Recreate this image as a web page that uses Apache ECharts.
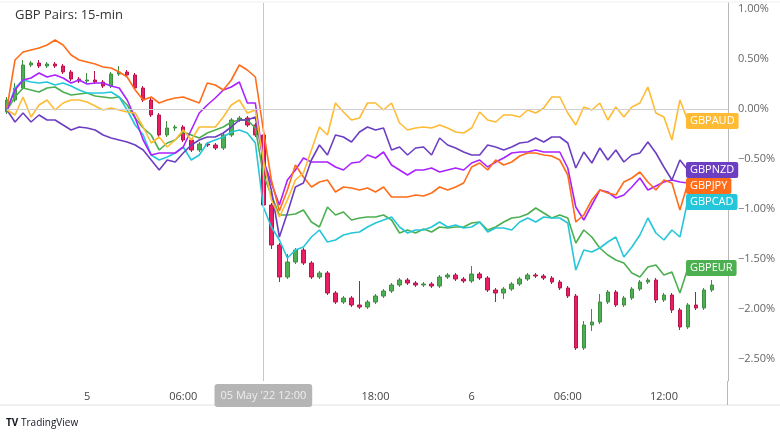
<!DOCTYPE html>
<html><head><meta charset="utf-8">
<script src="https://cdn.jsdelivr.net/npm/echarts@6/dist/echarts.min.js"></script>
<style>html,body{margin:0;padding:0;background:#fff}#c{width:780px;height:439px}</style>
</head><body><div id="c"></div>
<script>
// 30-minute bars from 04 May 19:00 to 06 May 15:00 (+2 empty slots)
const xTickLabels = {10:'5', 22:'06:00', 34:'12:00', 46:'18:00', 58:'6', 70:'06:00', 82:'12:00'};
const yTickValues = [1.0, 0.5, 0, -0.5, -1.0, -1.5, -2.0, -2.5];

const gbpaud = [-0.01,-0.06,0.12,-0.08,0.04,0.09,-0.01,0.06,0.09,0.09,0.07,0.03,-0.01,0.01,-0.01,-0.03,-0.04,-0.18,-0.34,-0.28,-0.38,-0.31,-0.21,-0.31,-0.18,-0.18,-0.18,-0.08,0.04,0.09,-0.04,-0.01,-0.51,-0.91,-1.08,-0.91,-0.71,-0.64,-0.41,-0.18,-0.26,0.06,-0.03,-0.11,-0.09,0.06,0.06,-0.01,0.06,-0.14,-0.21,-0.19,-0.18,-0.19,-0.16,-0.19,-0.23,-0.24,-0.19,-0.03,-0.11,-0.13,-0.06,-0.06,-0.08,-0.01,-0.04,0.01,0.12,0.12,-0.04,-0.16,0.02,-0.01,0.06,-0.11,0.02,-0.08,0.02,0.06,0.22,-0.04,-0.08,-0.31,0.09,-0.12];
const gbpnzd = [-0.01,-0.13,-0.04,-0.13,-0.06,-0.11,-0.11,-0.16,-0.21,-0.18,-0.19,-0.21,-0.26,-0.29,-0.31,-0.33,-0.36,-0.41,-0.51,-0.61,-0.51,-0.53,-0.44,-0.36,-0.31,-0.28,-0.28,-0.24,-0.18,-0.11,-0.11,-0.08,-0.51,-0.81,-1.28,-1.04,-0.78,-0.74,-0.51,-0.36,-0.46,-0.26,-0.28,-0.33,-0.23,-0.18,-0.21,-0.19,-0.41,-0.38,-0.46,-0.39,-0.38,-0.46,-0.29,-0.36,-0.39,-0.43,-0.46,-0.46,-0.36,-0.38,-0.41,-0.38,-0.34,-0.33,-0.29,-0.33,-0.28,-0.28,-0.34,-0.59,-0.43,-0.54,-0.39,-0.51,-0.41,-0.53,-0.46,-0.44,-0.33,-0.44,-0.58,-0.71,-0.51,-0.61];
const gbpjpy = [0.01,0.49,0.57,0.59,0.61,0.64,0.69,0.64,0.54,0.49,0.47,0.45,0.42,0.41,0.37,0.32,0.19,0.09,0.12,0.06,0.09,0.11,0.12,0.09,0.06,0.26,0.24,0.19,0.29,0.44,0.39,0.32,-0.21,-0.71,-1.02,-0.81,-0.56,-0.68,-0.78,-0.73,-0.71,-0.83,-0.78,-0.79,-0.81,-0.79,-0.83,-0.78,-0.88,-0.88,-0.88,-0.86,-0.87,-0.84,-0.78,-0.81,-0.78,-0.74,-0.58,-0.54,-0.61,-0.51,-0.56,-0.53,-0.47,-0.44,-0.44,-0.46,-0.47,-0.51,-0.66,-1.13,-1.06,-0.91,-0.81,-0.84,-0.86,-0.73,-0.69,-0.63,-0.73,-0.81,-0.71,-0.74,-1.01,-0.74];
const gbpchf = [-0.01,0.19,0.29,0.31,0.36,0.32,0.34,0.31,0.26,0.29,0.25,0.26,0.26,0.23,0.21,0.09,-0.09,-0.31,-0.46,-0.44,-0.44,-0.44,-0.38,-0.21,-0.04,0.04,0.11,0.19,0.22,0.27,0.06,0.06,-0.51,-0.74,-0.96,-0.71,-0.61,-0.49,-0.53,-0.53,-0.53,-0.58,-0.61,-0.54,-0.53,-0.46,-0.49,-0.43,-0.56,-0.61,-0.66,-0.61,-0.61,-0.59,-0.63,-0.61,-0.59,-0.61,-0.54,-0.51,-0.58,-0.53,-0.49,-0.44,-0.43,-0.43,-0.41,-0.43,-0.43,-0.43,-0.59,-0.98,-1.11,-0.96,-0.81,-0.83,-0.89,-0.86,-0.78,-0.69,-0.81,-0.77,-0.73,-0.71,-0.73,-0.74];
const gbpcad = [-0.01,0.21,0.29,0.27,0.26,0.27,0.24,0.26,0.23,0.19,0.16,0.16,0.16,0.17,0.12,-0.01,-0.16,-0.26,-0.46,-0.51,-0.48,-0.44,-0.38,-0.51,-0.46,-0.34,-0.31,-0.28,-0.23,-0.21,-0.24,-0.34,-0.98,-1.18,-1.31,-1.49,-1.41,-1.38,-1.28,-1.21,-1.33,-1.31,-1.26,-1.24,-1.23,-1.18,-1.14,-1.11,-1.08,-1.18,-1.24,-1.21,-1.21,-1.18,-1.13,-1.18,-1.16,-1.19,-1.18,-1.13,-1.23,-1.19,-1.19,-1.21,-1.13,-1.09,-1.13,-1.08,-1.09,-1.09,-1.14,-1.61,-1.41,-1.43,-1.39,-1.33,-1.28,-1.48,-1.38,-1.26,-1.09,-1.24,-1.31,-1.21,-1.28,-0.91];
const gbpeur = [-0.01,0.12,0.21,0.19,0.17,0.21,0.22,0.17,0.14,0.15,0.16,0.13,0.12,0.11,0.12,0.04,-0.09,-0.19,-0.26,-0.41,-0.34,-0.31,-0.23,-0.26,-0.29,-0.24,-0.21,-0.18,-0.13,-0.11,-0.11,-0.19,-0.66,-0.86,-1.06,-1.06,-1.05,-1.01,-1.13,-1.18,-0.98,-1.06,-1.03,-1.11,-1.09,-1.08,-1.08,-1.06,-1.11,-1.24,-1.21,-1.24,-1.20,-1.23,-1.18,-1.19,-1.18,-1.18,-1.14,-1.13,-1.21,-1.18,-1.13,-1.09,-1.08,-1.05,-0.99,-1.04,-1.09,-1.06,-1.09,-1.34,-1.21,-1.28,-1.39,-1.46,-1.51,-1.54,-1.64,-1.68,-1.58,-1.56,-1.66,-1.63,-1.84,-1.59];

// main symbol candles
const candleOpen  = [-0.03,0.09,0.21,0.44,0.46,0.43,0.45,0.43,0.37,0.30,0.28,0.29,0.27,0.23,0.35,0.37,0.34,0.21,0.09,-0.06,-0.26,-0.19,-0.18,-0.31,-0.41,-0.35,-0.36,-0.39,-0.26,-0.11,-0.09,-0.16,-0.26,-0.96,-1.36,-1.68,-1.53,-1.41,-1.54,-1.68,-1.64,-1.84,-1.93,-1.89,-1.96,-1.98,-1.93,-1.87,-1.82,-1.76,-1.71,-1.74,-1.76,-1.75,-1.77,-1.68,-1.66,-1.70,-1.72,-1.65,-1.69,-1.81,-1.84,-1.80,-1.75,-1.70,-1.66,-1.67,-1.69,-1.73,-1.79,-1.87,-2.39,-2.16,-2.13,-1.93,-1.83,-1.96,-1.89,-1.80,-1.73,-1.71,-1.91,-1.86,-2.01,-2.18,-1.96,-1.99,-1.81];
const candleClose = [0.09,0.21,0.44,0.46,0.43,0.45,0.43,0.37,0.30,0.28,0.29,0.27,0.23,0.35,0.37,0.34,0.21,0.09,-0.06,-0.26,-0.19,-0.18,-0.31,-0.41,-0.35,-0.36,-0.39,-0.26,-0.11,-0.09,-0.16,-0.26,-0.96,-1.36,-1.68,-1.53,-1.41,-1.54,-1.68,-1.64,-1.84,-1.93,-1.89,-1.96,-1.98,-1.93,-1.87,-1.82,-1.76,-1.71,-1.74,-1.76,-1.75,-1.77,-1.68,-1.66,-1.70,-1.72,-1.65,-1.69,-1.81,-1.84,-1.80,-1.75,-1.70,-1.66,-1.67,-1.69,-1.73,-1.79,-1.87,-2.39,-2.16,-2.13,-1.93,-1.83,-1.96,-1.89,-1.80,-1.73,-1.71,-1.91,-1.86,-2.01,-2.18,-1.96,-1.99,-1.81,-1.76];
const candleLow   = [-0.05,0.07,0.19,0.42,0.41,0.41,0.41,0.35,0.28,0.26,0.26,0.25,0.21,0.21,0.33,0.32,0.19,0.07,-0.08,-0.28,-0.28,-0.22,-0.33,-0.43,-0.43,-0.38,-0.41,-0.41,-0.28,-0.13,-0.18,-0.28,-0.98,-1.40,-1.73,-1.70,-1.55,-1.56,-1.70,-1.70,-1.86,-1.95,-1.95,-1.98,-2.00,-2.00,-1.95,-1.89,-1.84,-1.78,-1.76,-1.78,-1.78,-1.79,-1.79,-1.70,-1.72,-1.74,-1.74,-1.71,-1.83,-1.93,-1.90,-1.82,-1.77,-1.72,-1.69,-1.71,-1.75,-1.81,-1.89,-2.41,-2.41,-2.22,-2.15,-1.95,-1.98,-1.98,-1.91,-1.82,-1.75,-1.94,-1.93,-2.04,-2.21,-2.20,-2.01,-2.01,-1.83];
const candleHigh  = [0.12,0.26,0.49,0.48,0.49,0.47,0.47,0.45,0.39,0.32,0.36,0.38,0.29,0.37,0.43,0.39,0.36,0.23,0.11,-0.04,-0.12,-0.16,-0.16,-0.29,-0.33,-0.33,-0.34,-0.24,-0.09,-0.07,-0.07,-0.14,-0.10,-0.94,-1.34,-1.45,-1.39,-1.39,-1.52,-1.62,-1.62,-1.82,-1.87,-1.87,-1.72,-1.91,-1.85,-1.80,-1.74,-1.69,-1.69,-1.72,-1.73,-1.73,-1.66,-1.64,-1.64,-1.68,-1.57,-1.63,-1.67,-1.79,-1.78,-1.73,-1.68,-1.64,-1.64,-1.65,-1.67,-1.71,-1.77,-1.85,-2.12,-2.00,-1.85,-1.81,-1.81,-1.87,-1.78,-1.71,-1.69,-1.69,-1.84,-1.84,-1.99,-1.94,-1.83,-1.79,-1.71];

const N = 91;
const start = Date.UTC(2022,4,4,19,0);
const categories = [];
for (let i=0;i<N;i++){const d=new Date(start+i*1800000);categories.push(d.toISOString().slice(5,16));}
const candles = candleOpen.map((o,i)=>[o,candleClose[i],candleLow[i],candleHigh[i]]);

const chart = echarts.init(document.getElementById('c'));
const fam = '"Open Sans", "Noto Sans", sans-serif';
function lineSeries(name, data, color, label){
  return {name, type:'line', data, symbol:'none', z:3,
    lineStyle:{color, width:1.6}, itemStyle:{color},
    endLabel: label ? {show:true, formatter:name, color:'#fff', backgroundColor:color, padding:[3,4,2,4],
      fontSize:11, fontFamily:fam, borderRadius:2, offset:[-2,0], distance:0} : {show:false},
    labelLayout: {moveOverlap:'shiftY'}};
}
chart.setOption({
  animation:false,
  grid:{left:7, right:52, top:3, bottom:58},
  tooltip:{triggerOn:'none', show:true},
  xAxis:{type:'category', data:categories, boundaryGap:false,
    axisLine:{lineStyle:{color:'#b8b8b8'}}, axisTick:{show:false}, splitLine:{show:false},
    axisLabel:{interval:0, formatter:(v,i)=>xTickLabels[i]||'', color:'#444', fontSize:11, fontFamily:fam, margin:10, hideOverlap:false},
    axisPointer:{show:true, status:'show', value:32, type:'line', lineStyle:{color:'#c8c8c8', width:1, type:'solid'},
      label:{show:true, formatter:()=>"05 May '22 12:00", backgroundColor:'#b5b5b5', color:'#eee', fontSize:11, fontFamily:fam, padding:[6,6]}, triggerTooltip:false}
  },
  yAxis:{type:'value', position:'right', min:-2.72, max:1.06, scale:true,
    axisLine:{show:true, lineStyle:{color:'#b8b8b8'}}, axisTick:{show:false}, splitLine:{show:false},
    axisLabel:{customValues:yTickValues, formatter:v=>(v<0?'\u2212':'')+Math.abs(v).toFixed(2)+'%', color:'#666', fontSize:11, fontFamily:fam, margin:10}
  },
  series:[
    {name:'GBPUSD', type:'candlestick', data:candles, barWidth:4, z:2,
     itemStyle:{color:'#4caf50', color0:'#e91e63', borderColor:'#3f8f43', borderColor0:'#b5174d', borderWidth:1}},
    lineSeries('GBPEUR', gbpeur, '#4caf50', true),
    lineSeries('GBPCAD', gbpcad, '#26c6da', true),
    lineSeries('GBPCHF', gbpchf, '#aa22ff', false),
    lineSeries('GBPJPY', gbpjpy, '#ff6d1a', true),
    lineSeries('GBPNZD', gbpnzd, '#6c3fc2', true),
    Object.assign(lineSeries('GBPAUD', gbpaud, '#ffbb33', true),
      {markLine:{silent:true, symbol:'none', label:{show:false}, lineStyle:{color:'#cfcfcf', width:1, type:'solid'}, data:[{yAxis:0}]}})
  ],
  graphic:[
    {type:'text', left:15, top:9, style:{text:'GBP Pairs: 15-min', fill:'#333', font:'13px '+fam}},
    {type:'line', shape:{x1:0,y1:405,x2:780,y2:405}, style:{stroke:'#e0e0e0'}},
    {type:'line', shape:{x1:0,y1:2,x2:780,y2:2}, style:{stroke:'#eeeeee'}},
    {type:'line', shape:{x1:727.5,y1:381,x2:727.5,y2:405}, style:{stroke:'#b8b8b8'}},
    {type:'text', left:6, top:418, style:{text:'TV', fill:'#131722', font:'bold 10px '+fam}},
    {type:'text', left:21, top:418, style:{text:'TradingView', fill:'#131722', font:'10px '+fam}}
  ]
});
</script></body></html>
